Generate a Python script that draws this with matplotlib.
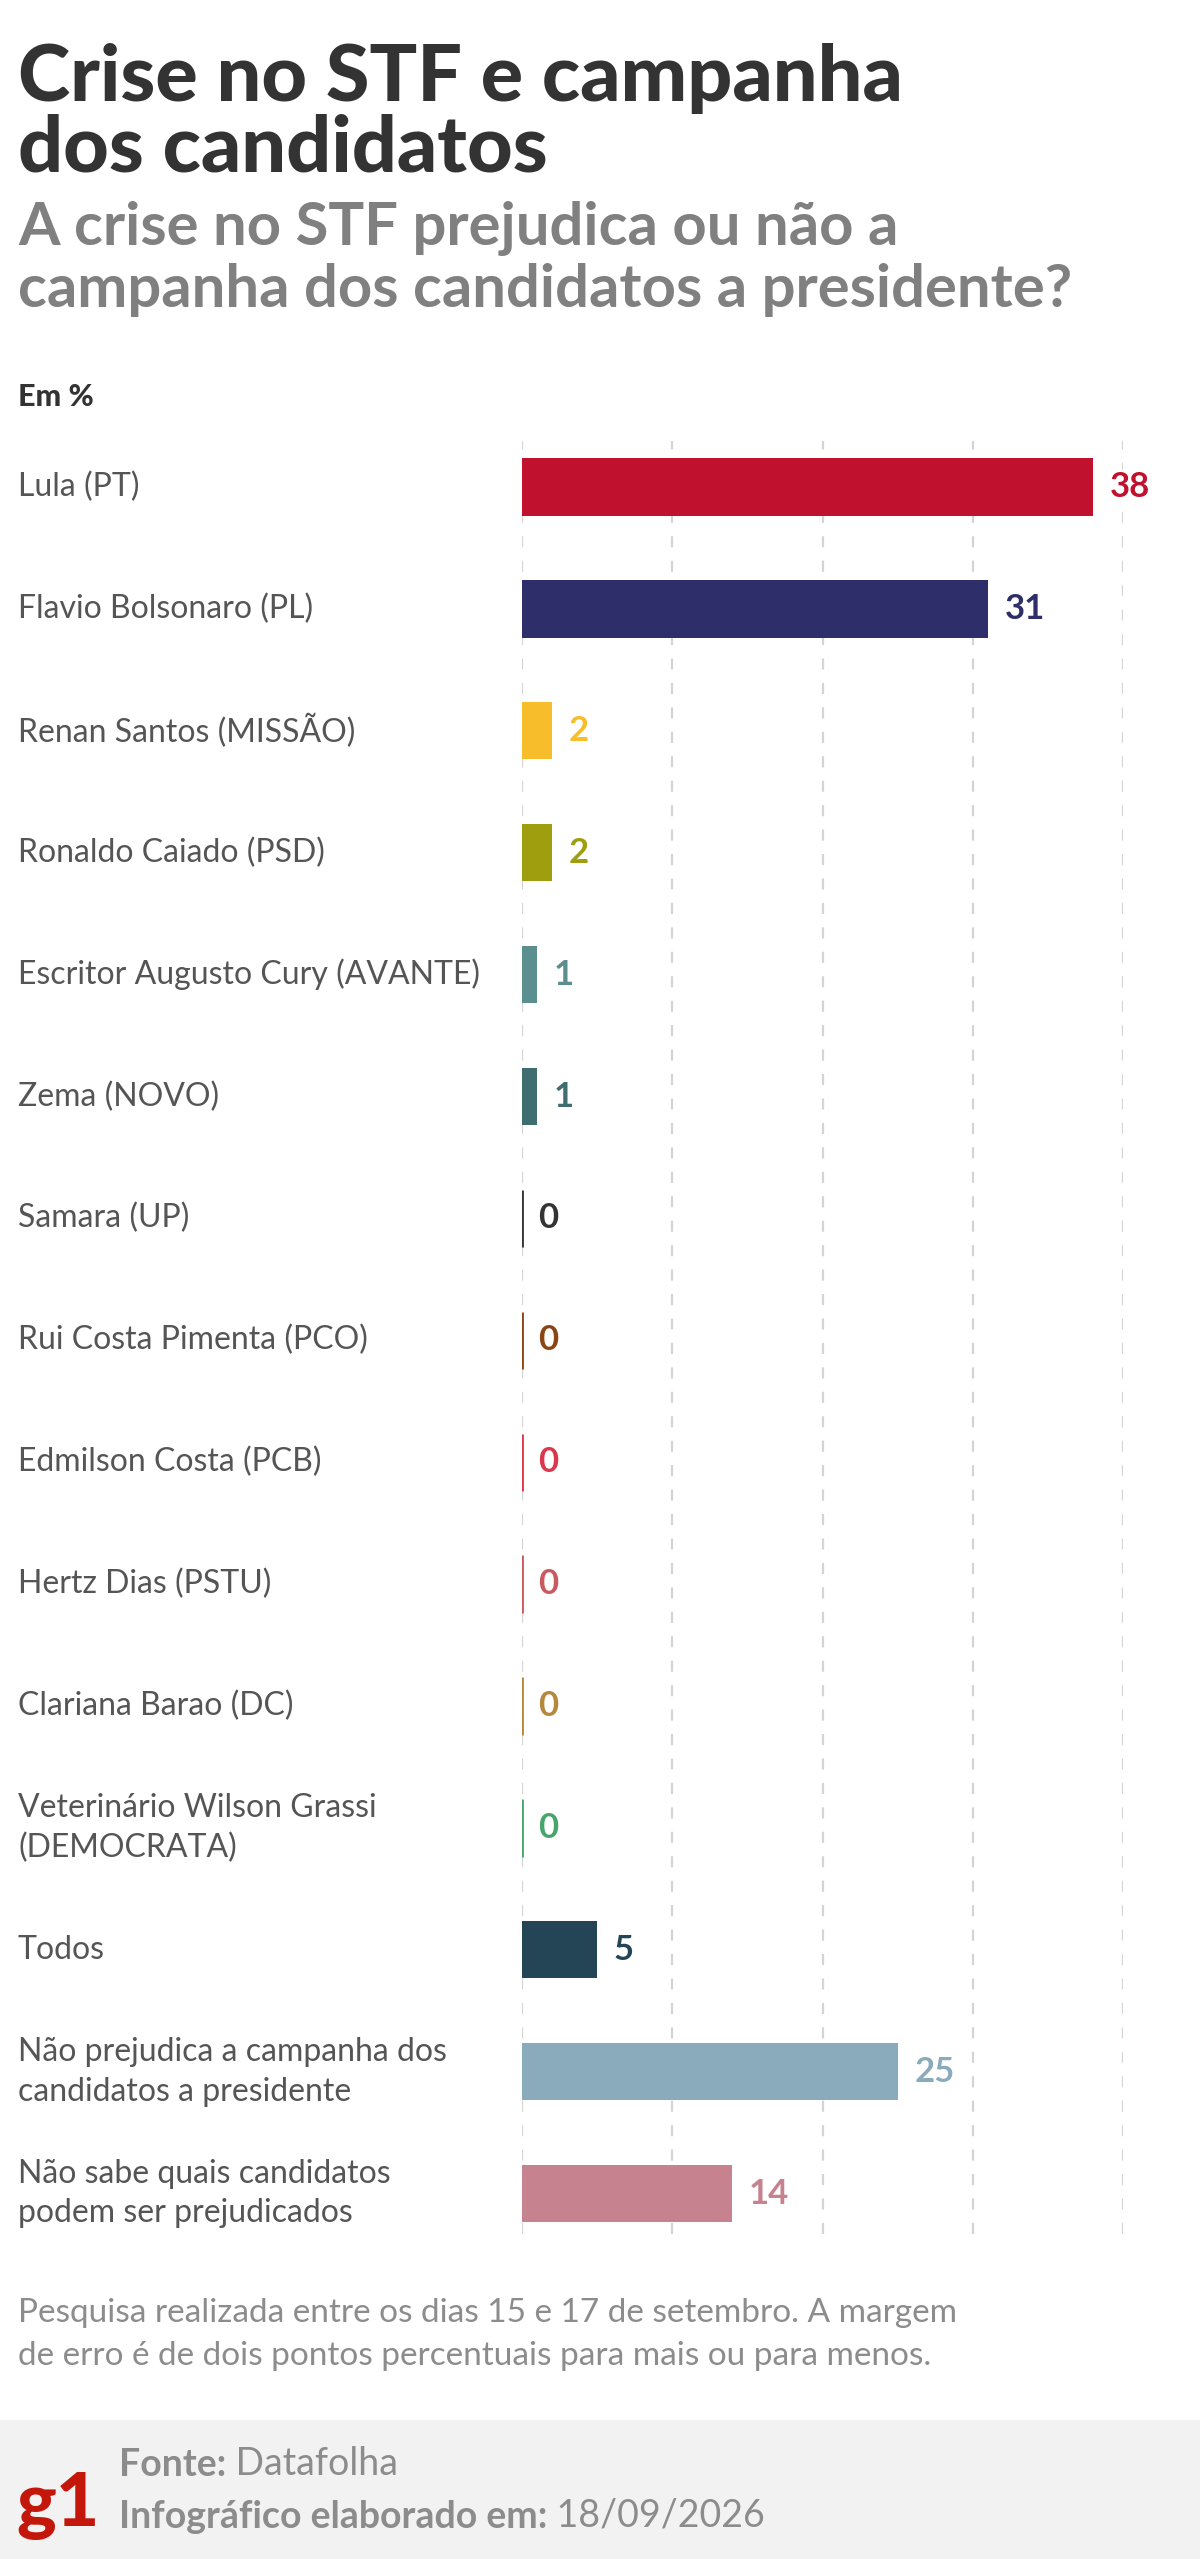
import matplotlib.pyplot as plt
from matplotlib.transforms import blended_transform_factory
from matplotlib.patches import Rectangle

W, H = 1200, 2559

# dados
categorias = [
    "Lula (PT)",
    "Flavio Bolsonaro (PL)",
    "Renan Santos (MISSÃO)",
    "Ronaldo Caiado (PSD)",
    "Escritor Augusto Cury (AVANTE)",
    "Zema (NOVO)",
    "Samara (UP)",
    "Rui Costa Pimenta (PCO)",
    "Edmilson Costa (PCB)",
    "Hertz Dias (PSTU)",
    "Clariana Barao (DC)",
    "Veterinário Wilson Grassi\n(DEMOCRATA)",
    "Todos",
    "Não prejudica a campanha dos\ncandidatos a presidente",
    "Não sabe quais candidatos\npodem ser prejudicados",
]
valores = [38, 31, 2, 2, 1, 1, 0, 0, 0, 0, 0, 0, 5, 25, 14]
cores = [
    "#c0122e", "#2e2f6a", "#f7bd2a", "#9e9e0e", "#5b8e8e", "#3f6e70",
    "#333333", "#8a4512", "#d9384d", "#c95a60", "#b5883c", "#47a56b",
    "#244556", "#8aabbc", "#c6838f",
]
ticks = [0, 10, 20, 30, 40]

FONTE = "Lato"


def fy(y):
    return 1 - y / H


fig = plt.figure(figsize=(W / 100, H / 100), dpi=100)
fig.patch.set_facecolor("white")

# faixa do rodapé
fig.add_artist(Rectangle((0, 0), 1, (H - 2420) / H, transform=fig.transFigure,
                         fc="#f2f2f2", ec="none", zorder=0))

# eixo do gráfico
ax_top, ax_bot = 441, 2234
row0, passo = 487, 121.9
ax = fig.add_axes([522 / W, fy(ax_bot), (1123 - 522) / W, (ax_bot - ax_top) / H])
n = len(categorias)
ypos = list(range(n))
ax.set_ylim(n - 1 + (ax_bot - (row0 + (n - 1) * passo)) / passo, -(row0 - ax_top) / passo)
ax.set_xlim(0, 40)
ax.set_xticks(ticks)
ax.set_yticks([])
ax.tick_params(axis="x", length=0, labelbottom=False)
ax.grid(axis="x", color="#d4d4d4", linestyle=(0, (5, 6)), linewidth=1.6)
ax.set_axisbelow(True)
for s in ax.spines.values():
    s.set_visible(False)
ax.patch.set_alpha(0)

ax.barh(ypos, valores, height=0.47, color=cores, edgecolor=cores,
        linewidth=[2 if v == 0 else 0 for v in valores], zorder=3)

for y, v, c in zip(ypos, valores, cores):
    ax.text(v + 1.1, y, str(v), va="center", ha="left", color=c, fontsize=25,
            fontweight="bold", family=FONTE, zorder=4, clip_on=False,
            bbox=dict(fc="white", ec="none", pad=1))

trans = blended_transform_factory(fig.transFigure, ax.transData)
for y, lab in zip(ypos, categorias):
    ax.text(18 / W, y, lab, transform=trans, va="center", ha="left",
            fontsize=23, color="#555555", family=FONTE, linespacing=1.4)

# títulos
fig.text(18 / W, fy(101), "Crise no STF e campanha", fontsize=57, fontweight="black",
         color="#333333", family=FONTE, va="baseline")
fig.text(18 / W, fy(171), "dos candidatos", fontsize=57, fontweight="black",
         color="#333333", family=FONTE, va="baseline")
fig.text(18 / W, fy(245), "A crise no STF prejudica ou não a", fontsize=43,
         fontweight="bold", color="#808080", family=FONTE, va="baseline")
fig.text(18 / W, fy(307), "campanha dos candidatos a presidente?", fontsize=43,
         fontweight="bold", color="#808080", family=FONTE, va="baseline")
fig.text(18 / W, fy(406), "Em %", fontsize=22, fontweight="black",
         color="#333333", family=FONTE, va="baseline")

# nota
fig.text(18 / W, fy(2322), "Pesquisa realizada entre os dias 15 e 17 de setembro. A margem",
         fontsize=24, color="#8c8c8c", family=FONTE, va="baseline")
fig.text(18 / W, fy(2365), "de erro é de dois pontos percentuais para mais ou para menos.",
         fontsize=24, color="#8c8c8c", family=FONTE, va="baseline")

# rodapé
a1 = fig.add_axes([0, 0, 1, 1])
a1.axis("off")
a1.set_zorder(5)
a1.text(16 / W, fy(2526), "g1", fontsize=54, fontweight="black", color="#c4170c",
        family=FONTE, va="baseline", transform=fig.transFigure)
t1 = a1.text(119 / W, fy(2476), "Fonte:", fontsize=27, fontweight="bold",
             color="#8c8c8c", family=FONTE, va="baseline", transform=fig.transFigure)
a1.annotate(" Datafolha", xy=(1, 0), xycoords=t1, va="bottom", ha="left",
            fontsize=27, color="#8c8c8c", family=FONTE)
t2 = a1.text(119 / W, fy(2528), "Infográfico elaborado em:", fontsize=27,
             fontweight="bold", color="#8c8c8c", family=FONTE, va="baseline",
             transform=fig.transFigure)
a1.annotate(" 18/09/2026", xy=(1, 0), xycoords=t2, va="bottom", ha="left",
            fontsize=27, color="#8c8c8c", family=FONTE)

fig.savefig("out.png", dpi=100)
